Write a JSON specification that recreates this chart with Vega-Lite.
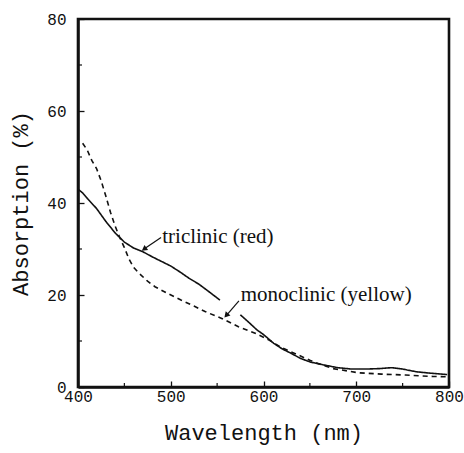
{
  "$schema": "https://vega.github.io/schema/vega-lite/v6.json",
  "autosize": {"type": "none"},
  "width": 371,
  "height": 368,
  "padding": {"left": 78, "top": 19, "right": 15, "bottom": 66},
  "datasets": {
    "curves": [
      {"wl": 400, "val": 43.0, "series": "triclinic", "seg": "t1"},
      {"wl": 405, "val": 42.2, "series": "triclinic", "seg": "t1"},
      {"wl": 410, "val": 41.0, "series": "triclinic", "seg": "t1"},
      {"wl": 420, "val": 38.8, "series": "triclinic", "seg": "t1"},
      {"wl": 430, "val": 36.0, "series": "triclinic", "seg": "t1"},
      {"wl": 440, "val": 33.5, "series": "triclinic", "seg": "t1"},
      {"wl": 450, "val": 31.5, "series": "triclinic", "seg": "t1"},
      {"wl": 460, "val": 30.2, "series": "triclinic", "seg": "t1"},
      {"wl": 470, "val": 29.4, "series": "triclinic", "seg": "t1"},
      {"wl": 480, "val": 28.3, "series": "triclinic", "seg": "t1"},
      {"wl": 490, "val": 27.3, "series": "triclinic", "seg": "t1"},
      {"wl": 500, "val": 26.3, "series": "triclinic", "seg": "t1"},
      {"wl": 510, "val": 25.0, "series": "triclinic", "seg": "t1"},
      {"wl": 520, "val": 23.6, "series": "triclinic", "seg": "t1"},
      {"wl": 530, "val": 22.4, "series": "triclinic", "seg": "t1"},
      {"wl": 540, "val": 20.9, "series": "triclinic", "seg": "t1"},
      {"wl": 553, "val": 18.9, "series": "triclinic", "seg": "t1"},
      {"wl": 575, "val": 15.7, "series": "triclinic", "seg": "t2"},
      {"wl": 585, "val": 13.9, "series": "triclinic", "seg": "t2"},
      {"wl": 593, "val": 12.4, "series": "triclinic", "seg": "t2"},
      {"wl": 600, "val": 11.4, "series": "triclinic", "seg": "t2"},
      {"wl": 611, "val": 9.5, "series": "triclinic", "seg": "t2"},
      {"wl": 620, "val": 8.3, "series": "triclinic", "seg": "t2"},
      {"wl": 630, "val": 7.3, "series": "triclinic", "seg": "t2"},
      {"wl": 640, "val": 6.2, "series": "triclinic", "seg": "t2"},
      {"wl": 651, "val": 5.4, "series": "triclinic", "seg": "t2"},
      {"wl": 665, "val": 4.8, "series": "triclinic", "seg": "t2"},
      {"wl": 680, "val": 4.2, "series": "triclinic", "seg": "t2"},
      {"wl": 695, "val": 3.9, "series": "triclinic", "seg": "t2"},
      {"wl": 710, "val": 3.9, "series": "triclinic", "seg": "t2"},
      {"wl": 725, "val": 4.0, "series": "triclinic", "seg": "t2"},
      {"wl": 738, "val": 4.2, "series": "triclinic", "seg": "t2"},
      {"wl": 750, "val": 3.9, "series": "triclinic", "seg": "t2"},
      {"wl": 765, "val": 3.3, "series": "triclinic", "seg": "t2"},
      {"wl": 780, "val": 3.0, "series": "triclinic", "seg": "t2"},
      {"wl": 798, "val": 2.7, "series": "triclinic", "seg": "t2"},
      {"wl": 405, "val": 53.0, "series": "monoclinic", "seg": "m1"},
      {"wl": 410, "val": 51.5, "series": "monoclinic", "seg": "m1"},
      {"wl": 415, "val": 49.2, "series": "monoclinic", "seg": "m1"},
      {"wl": 420, "val": 47.5, "series": "monoclinic", "seg": "m1"},
      {"wl": 425, "val": 44.8, "series": "monoclinic", "seg": "m1"},
      {"wl": 430, "val": 41.5, "series": "monoclinic", "seg": "m1"},
      {"wl": 435, "val": 38.0, "series": "monoclinic", "seg": "m1"},
      {"wl": 440, "val": 35.0, "series": "monoclinic", "seg": "m1"},
      {"wl": 445, "val": 32.5, "series": "monoclinic", "seg": "m1"},
      {"wl": 450, "val": 30.3, "series": "monoclinic", "seg": "m1"},
      {"wl": 455, "val": 27.8, "series": "monoclinic", "seg": "m1"},
      {"wl": 460, "val": 26.0, "series": "monoclinic", "seg": "m1"},
      {"wl": 466, "val": 24.7, "series": "monoclinic", "seg": "m1"},
      {"wl": 475, "val": 23.0, "series": "monoclinic", "seg": "m1"},
      {"wl": 483, "val": 21.8, "series": "monoclinic", "seg": "m1"},
      {"wl": 495, "val": 20.5, "series": "monoclinic", "seg": "m1"},
      {"wl": 511, "val": 18.9, "series": "monoclinic", "seg": "m1"},
      {"wl": 525, "val": 17.6, "series": "monoclinic", "seg": "m1"},
      {"wl": 537, "val": 16.4, "series": "monoclinic", "seg": "m1"},
      {"wl": 555, "val": 14.9, "series": "monoclinic", "seg": "m1"},
      {"wl": 573, "val": 13.1, "series": "monoclinic", "seg": "m1"},
      {"wl": 591, "val": 11.7, "series": "monoclinic", "seg": "m1"},
      {"wl": 606, "val": 10.2, "series": "monoclinic", "seg": "m1"},
      {"wl": 620, "val": 8.5, "series": "monoclinic", "seg": "m1"},
      {"wl": 637, "val": 7.0, "series": "monoclinic", "seg": "m1"},
      {"wl": 650, "val": 5.8, "series": "monoclinic", "seg": "m1"},
      {"wl": 662, "val": 4.9, "series": "monoclinic", "seg": "m1"},
      {"wl": 675, "val": 4.0, "series": "monoclinic", "seg": "m1"},
      {"wl": 690, "val": 3.5, "series": "monoclinic", "seg": "m1"},
      {"wl": 702, "val": 3.1, "series": "monoclinic", "seg": "m1"},
      {"wl": 727, "val": 2.8, "series": "monoclinic", "seg": "m1"},
      {"wl": 753, "val": 2.6, "series": "monoclinic", "seg": "m1"},
      {"wl": 782, "val": 2.3, "series": "monoclinic", "seg": "m1"},
      {"wl": 800, "val": 2.2, "series": "monoclinic", "seg": "m1"}
    ],
    "notes": [
      {"wl": 490.8, "val": 32.7, "text": "triclinic (red)"},
      {"wl": 575.5, "val": 20.0, "text": "monoclinic (yellow)"}
    ],
    "arrows": [
      {"name": "tri", "x1": 489.5, "y1": 32.5, "x2": 472.0, "y2": 30.1},
      {"name": "mono", "x1": 573.5, "y1": 18.7, "x2": 560.5, "y2": 15.7}
    ],
    "frame": [
      {"x1": 400, "y1": 0, "x2": 800, "y2": 80}
    ],
    "xminor": [{"v": 450}, {"v": 550}, {"v": 650}, {"v": 750}],
    "yminor": [{"v": 10}, {"v": 30}, {"v": 50}, {"v": 70}]
  },
  "layer": [
    {
      "data": {"name": "curves"},
      "mark": {"type": "line", "color": "#111", "strokeWidth": 1.6},
      "encoding": {
        "x": {"field": "wl", "type": "quantitative",
              "scale": {"domain": [400, 800], "nice": false, "zero": false},
              "axis": {"values": [400, 500, 600, 700, 800], "grid": false,
                       "domain": true, "domainColor": "#111", "domainWidth": 2.5,
                       "ticks": true, "tickColor": "#111", "tickWidth": 1.3, "tickSize": -6,
                       "labelFont": "Liberation Mono", "labelFontSize": 16, "labelColor": "#111", "labelFlush": false, "labelOverlap": false,
                       "labelPadding": 7,
                       "title": "Wavelength (nm)", "titlePadding": 18,
                       "titleFont": "Liberation Mono", "titleFontSize": 22, "titleFontWeight": "normal", "titleColor": "#111"}},
        "y": {"field": "val", "type": "quantitative",
              "scale": {"domain": [0, 80], "nice": false},
              "axis": {"values": [0, 20, 40, 60, 80], "grid": false,
                       "domain": true, "domainColor": "#111", "domainWidth": 2.5,
                       "ticks": true, "tickColor": "#111", "tickWidth": 1.3, "tickSize": -6,
                       "labelFont": "Liberation Mono", "labelFontSize": 16, "labelColor": "#111", "labelFlush": false, "labelOverlap": false,
                       "labelPadding": 18,
                       "title": "Absorption (%)", "titlePadding": 14,
                       "titleFont": "Liberation Mono", "titleFontSize": 22, "titleFontWeight": "normal", "titleColor": "#111"}},
        "strokeDash": {"field": "series", "type": "nominal",
                       "scale": {"domain": ["triclinic", "monoclinic"], "range": [[1, 0], [5, 4]]},
                       "legend": null},
        "detail": {"field": "seg"}
      }
    },
    {
      "data": {"name": "frame"},
      "mark": {"type": "rect", "fill": null, "stroke": "#111", "strokeWidth": 2.6},
      "encoding": {
        "x": {"field": "x1", "type": "quantitative"},
        "y": {"field": "y1", "type": "quantitative"},
        "x2": {"field": "x2"},
        "y2": {"field": "y2"}
      }
    },
    {
      "data": {"name": "xminor"},
      "mark": {"type": "tick", "orient": "vertical", "color": "#111", "size": 4, "thickness": 1.2, "opacity": 1, "yOffset": -2},
      "encoding": {
        "x": {"field": "v", "type": "quantitative"},
        "y": {"datum": 0, "type": "quantitative"}
      }
    },
    {
      "data": {"name": "yminor"},
      "mark": {"type": "tick", "orient": "horizontal", "color": "#111", "size": 4, "thickness": 1.2, "opacity": 1, "xOffset": 2},
      "encoding": {
        "y": {"field": "v", "type": "quantitative"},
        "x": {"datum": 400, "type": "quantitative"}
      }
    },
    {
      "data": {"name": "arrows"},
      "mark": {"type": "rule", "color": "#111", "strokeWidth": 1.2},
      "encoding": {
        "x": {"field": "x1", "type": "quantitative"},
        "y": {"field": "y1", "type": "quantitative"},
        "x2": {"field": "x2"},
        "y2": {"field": "y2"}
      }
    },
    {
      "data": {"name": "arrows"},
      "transform": [{"filter": "datum.name === 'tri'"}],
      "mark": {"type": "point", "shape": "triangle", "filled": true, "color": "#111", "opacity": 1, "size": 40, "angle": 235},
      "encoding": {
        "x": {"field": "x2", "type": "quantitative"},
        "y": {"field": "y2", "type": "quantitative"}
      }
    },
    {
      "data": {"name": "arrows"},
      "transform": [{"filter": "datum.name === 'mono'"}],
      "mark": {"type": "point", "shape": "triangle", "filled": true, "color": "#111", "opacity": 1, "size": 40, "angle": 222},
      "encoding": {
        "x": {"field": "x2", "type": "quantitative"},
        "y": {"field": "y2", "type": "quantitative"}
      }
    },
    {
      "data": {"name": "notes"},
      "mark": {"type": "text", "align": "left", "baseline": "middle", "font": "Liberation Serif", "fontSize": 21, "color": "#111"},
      "encoding": {
        "x": {"field": "wl", "type": "quantitative"},
        "y": {"field": "val", "type": "quantitative"},
        "text": {"field": "text"}
      }
    }
  ]
}
